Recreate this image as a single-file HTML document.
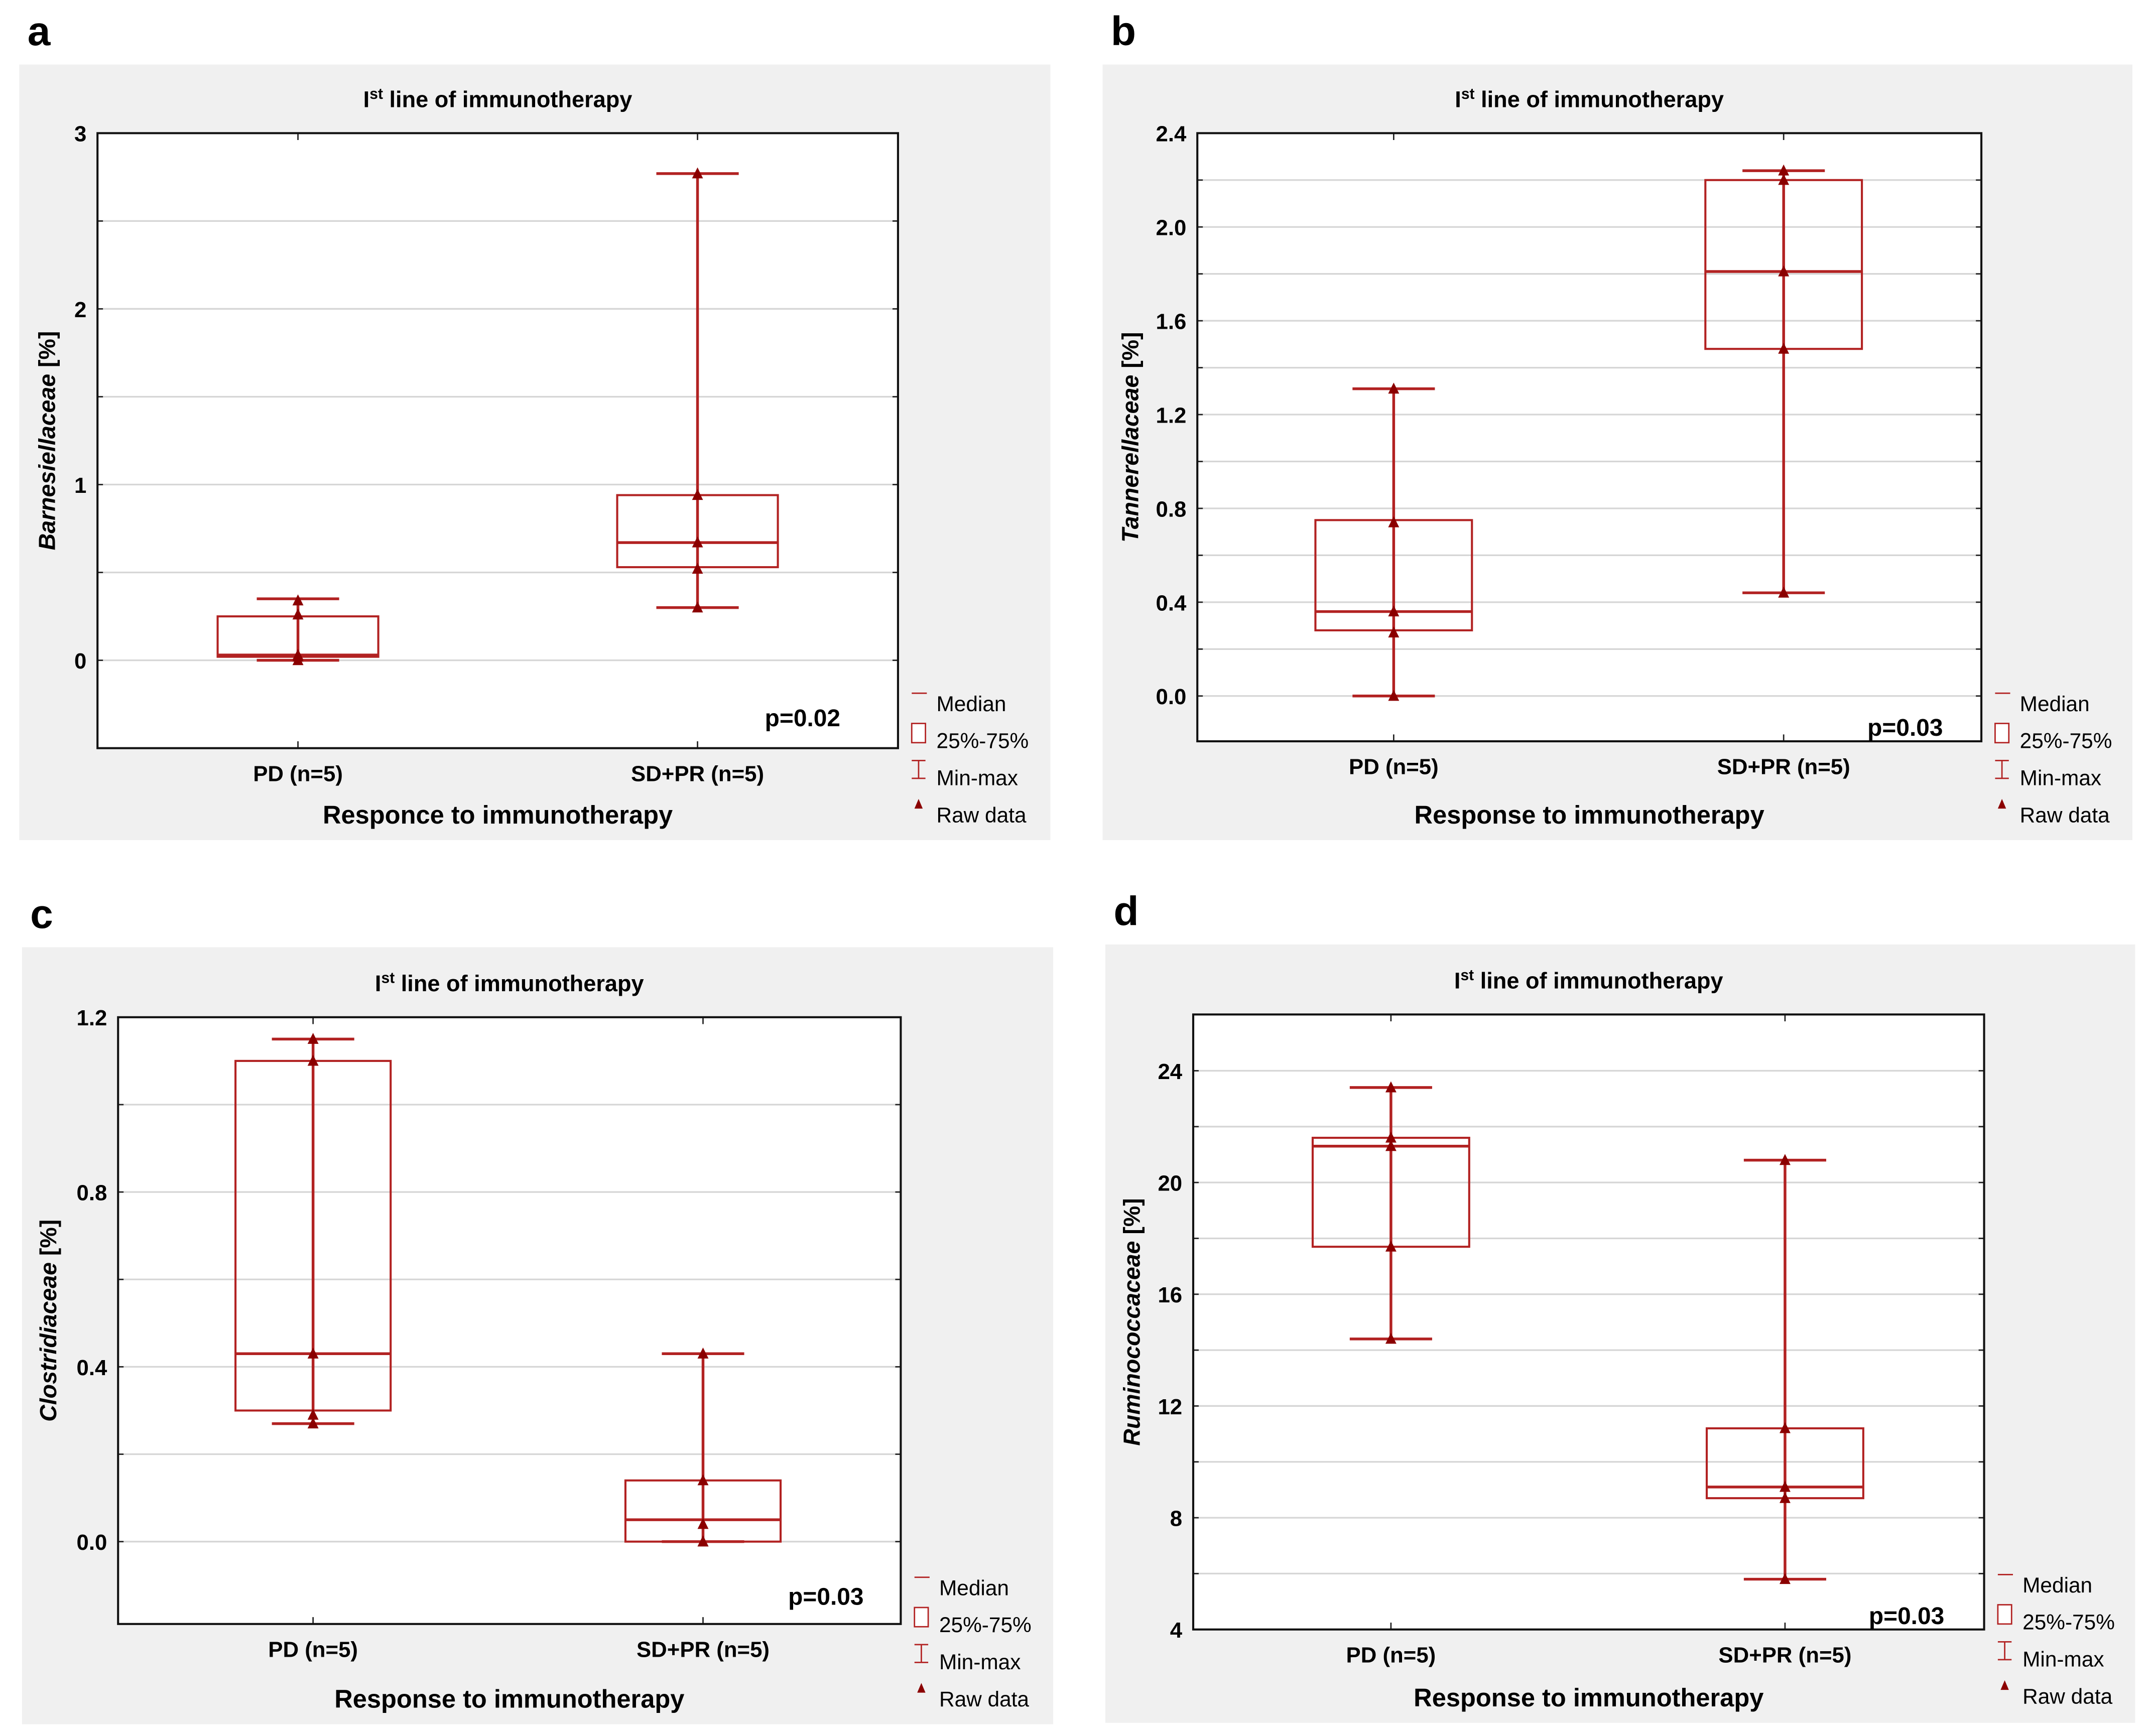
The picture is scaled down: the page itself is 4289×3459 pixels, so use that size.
<!DOCTYPE html>
<html><head><meta charset="utf-8"><style>
html,body{margin:0;padding:0;background:#fff;}
svg{display:block;}
text{font-family:"Liberation Sans",sans-serif;}
</style></head>
<body>
<svg id="fig" xmlns="http://www.w3.org/2000/svg" width="4289" height="3459" viewBox="0 0 1568 1264.6" preserveAspectRatio="none"></svg>
<script>
// ---- data ----
const categories = ["PD (n=5)", "SD+PR (n=5)"];
// panel a: Barnesiellaceae
const aMin=[0,0.30], aQ1=[0.02,0.53], aMed=[0.03,0.67], aQ3=[0.25,0.94], aMax=[0.35,2.77];
const aRawPD=[0,0.02,0.03,0.26,0.34], aRawSD=[0.30,0.52,0.67,0.94,2.77];
const aTicks=["0","1","2","3"];
// panel b: Tannerellaceae
const bMin=[0,0.44], bQ1=[0.28,1.48], bMed=[0.36,1.81], bQ3=[0.75,2.20], bMax=[1.31,2.24];
const bRawPD=[0,0.27,0.36,0.74,1.31], bRawSD=[0.44,1.48,1.81,2.20,2.24];
const bTicks=["0.0","0.4","0.8","1.2","1.6","2.0","2.4"];
// panel c: Clostridiaceae
const cMin=[0.27,0], cQ1=[0.30,0], cMed=[0.43,0.05], cQ3=[1.10,0.14], cMax=[1.15,0.43];
const cRawPD=[0.27,0.29,0.43,1.10,1.15], cRawSD=[0,0,0.04,0.14,0.43];
const cTicks=["0.0","0.4","0.8","1.2"];
// panel d: Ruminococcaceae
const dMin=[14.4,5.8], dQ1=[17.7,8.7], dMed=[21.3,9.1], dQ3=[21.6,11.2], dMax=[23.4,20.8];
const dRawPD=[14.4,17.7,21.3,21.6,23.4], dRawSD=[5.8,8.7,9.1,11.2,20.8];
const dTicks=["4","8","12","16","20","24"];

const NS="http://www.w3.org/2000/svg";
const svg=document.getElementById('fig');
const RED="#b22222", DARK="#8b0000";
function mk(tag,attrs,parent,txt){
  const e=document.createElementNS(NS,tag);
  for(const k in attrs) e.setAttribute(k,attrs[k]);
  if(txt!==undefined) e.textContent=txt;
  (parent||svg).appendChild(e);
  return e;
}

function panel(p){
  const g=mk('g',{});
  
  
  const lt=mk('text',{x:p.bg[0]+6,y:p.bg[1]-14,'font-size':30,'font-weight':'bold'},g,p.letter);
  
  
  const bg=mk('rect',{x:p.bg[0],y:p.bg[1],width:p.bg[2],height:p.bg[3],fill:'#f0f0f0'},g);
  
  
  const [x0,y0,x1,y1]=p.plot;
  const yScale=v=>p.yBot+(v-p.vBot)*(p.yTop-p.yBot)/(p.vTop-p.vBot);
  const xScale=i=>p.cx[i];
  const pr=mk('rect',{x:x0,y:y0,width:x1-x0,height:y1-y0,fill:'#fff'},g);
  
  
  for(let v=p.vBot-p.gridStep*Math.ceil((p.vBot-p.gMin)/p.gridStep); v<=p.vTop+1e-9; v+=p.gridStep){
    const y=yScale(v); if(y<y0-0.5||y>y1+0.5) continue;
    const gl=mk('line',{x1:x0,x2:x1,y1:y,y2:y,stroke:'#d6d6d6','stroke-width':1.2},g);
    
    
    mk('line',{x1:x0,x2:x0+4,y1:y,y2:y,stroke:'#222','stroke-width':1},g);
    mk('line',{x1:x1-4,x2:x1,y1:y,y2:y,stroke:'#222','stroke-width':1},g);
  }
  p.ticks.forEach(t=>{
    const y=yScale(parseFloat(t));
    const tl=mk('text',{x:x0-8,y:y+6,'font-size':16,'font-weight':'bold','text-anchor':'end'},g,t);
    
    
  });
  categories.forEach((c,i)=>{
    const x=xScale(i);
    mk('line',{x1:x,x2:x,y1:y1,y2:y1-5,stroke:'#222'},g);
    mk('line',{x1:x,x2:x,y1:y0,y2:y0+5,stroke:'#222'},g);
    const xl=mk('text',{x:x,y:y1+24,'font-size':16,'font-weight':'bold','text-anchor':'middle'},g,c);
    
    
  });
  const halfBox=(p.boxW)/2, halfCap=30;
  categories.forEach((c,i)=>{
    const x=xScale(i);
    const bx=mk('g',{},g);
    
    
    mk('line',{x1:x,x2:x,y1:yScale(p.mn[i]),y2:yScale(p.mx[i]),stroke:RED,'stroke-width':2},bx);
    mk('line',{x1:x-halfCap,x2:x+halfCap,y1:yScale(p.mn[i]),y2:yScale(p.mn[i]),stroke:RED,'stroke-width':2},bx);
    mk('line',{x1:x-halfCap,x2:x+halfCap,y1:yScale(p.mx[i]),y2:yScale(p.mx[i]),stroke:RED,'stroke-width':2},bx);
    const yq3=yScale(p.q3[i]), yq1=yScale(p.q1[i]);
    mk('rect',{x:x-halfBox,y:yq3,width:2*halfBox,height:Math.max(0.5,yq1-yq3),fill:'none',stroke:RED,'stroke-width':1.5},bx);
    mk('line',{x1:x-halfBox,x2:x+halfBox,y1:yScale(p.md[i]),y2:yScale(p.md[i]),stroke:RED,'stroke-width':2},bx);
    (i===0?p.rawPD:p.rawSD).forEach(v=>{
      const y=yScale(v);
      const t=mk('polygon',{points:`${x-4},${y+3.5} ${x+4},${y+3.5} ${x},${y-4.5}`,fill:DARK},bx);
      
      
    });
  });
  mk('rect',{x:x0,y:y0,width:x1-x0,height:y1-y0,fill:'none',stroke:'#111','stroke-width':1.5},g);
  const tt=mk('text',{x:(x0+x1)/2,y:y0-19,'font-size':16.5,'font-weight':'bold','text-anchor':'middle'},g);
  
  
  mk('tspan',{},tt,'I');
  mk('tspan',{dy:-6,'font-size':11},tt,'st');
  mk('tspan',{dy:6},tt,' line of immunotherapy');
  const ya=mk('text',{transform:`translate(${p.yTitleX},${(y0+y1)/2}) rotate(-90)`,'font-size':17,'font-weight':'bold','text-anchor':'middle'},g);
  
  
  mk('tspan',{'font-style':'italic'},ya,p.yName);
  mk('tspan',{},ya,' [%]');
  const xa=mk('text',{x:(x0+x1)/2,y:p.bg[1]+p.bg[3]-12,'font-size':18.5,'font-weight':'bold','text-anchor':'middle'},g,p.xName);
  
  
  const pv=mk('text',{x:p.pX,y:p.pY,'font-size':17.5,'font-weight':'bold','text-anchor':'end'},g,p.pval);
  
  
  const lg=mk('g',{},g);
  
  
  const lx=x1+10, ly=p.legY;
  mk('line',{x1:lx,x2:lx+11,y1:ly,y2:ly,stroke:RED,'stroke-width':1},lg);
  mk('text',{x:lx+18,y:ly+13,'font-size':15.5},lg,'Median');
  mk('rect',{x:lx,y:ly+22,width:10,height:14,fill:'#fff',stroke:RED,'stroke-width':1},lg);
  mk('text',{x:lx+18,y:ly+40,'font-size':15.5},lg,'25%-75%');
  mk('line',{x1:lx+5,x2:lx+5,y1:ly+49,y2:ly+62,stroke:RED},lg);
  mk('line',{x1:lx,x2:lx+10,y1:ly+49,y2:ly+49,stroke:RED},lg);
  mk('line',{x1:lx,x2:lx+10,y1:ly+62,y2:ly+62,stroke:RED},lg);
  mk('text',{x:lx+18,y:ly+67,'font-size':15.5},lg,'Min-max');
  mk('polygon',{points:`${lx+2},${ly+84} ${lx+8},${ly+84} ${lx+5},${ly+77}`,fill:DARK},lg);
  mk('text',{x:lx+18,y:ly+94,'font-size':15.5},lg,'Raw data');
}

panel({letter:'a',bg:[14,47,751,565],plot:[71,97,654,545],cx:[217,508],boxW:117,
  vTop:3,vBot:0,yTop:97,yBot:481,gridStep:0.5,gMin:-0.5,ticks:aTicks,
  mn:aMin,q1:aQ1,md:aMed,q3:aQ3,mx:aMax,rawPD:aRawPD,rawSD:aRawSD,
  yTitleX:40,yName:'Barnesiellaceae',xName:'Responce to immunotherapy',pval:'p=0.02',pX:612,pY:529,legY:505});
panel({letter:'b',bg:[803,47,750,565],plot:[872,97,1443,540],cx:[1015,1299],boxW:114,
  vTop:2.4,vBot:0,yTop:97,yBot:507,gridStep:0.2,gMin:-0.2,ticks:bTicks,
  mn:bMin,q1:bQ1,md:bMed,q3:bQ3,mx:bMax,rawPD:bRawPD,rawSD:bRawSD,
  yTitleX:829,yName:'Tannerellaceae',xName:'Response to immunotherapy',pval:'p=0.03',pX:1415,pY:536,legY:505});
panel({letter:'c',bg:[16,690,751,566],plot:[86,741,656,1183],cx:[228,512],boxW:113,
  vTop:1.2,vBot:0,yTop:741,yBot:1123,gridStep:0.2,gMin:-0.2,ticks:cTicks,
  mn:cMin,q1:cQ1,md:cMed,q3:cQ3,mx:cMax,rawPD:cRawPD,rawSD:cRawSD,
  yTitleX:41,yName:'Clostridiaceae',xName:'Response to immunotherapy',pval:'p=0.03',pX:629,pY:1169,legY:1149});
panel({letter:'d',bg:[805,688,750,567],plot:[869,739,1445,1187],cx:[1013,1300],boxW:114,
  vTop:24,vBot:4,yTop:780,yBot:1187,gridStep:2,gMin:4,ticks:dTicks,
  mn:dMin,q1:dQ1,md:dMed,q3:dQ3,mx:dMax,rawPD:dRawPD,rawSD:dRawSD,
  yTitleX:830,yName:'Ruminococcaceae',xName:'Response to immunotherapy',pval:'p=0.03',pX:1416,pY:1183,legY:1147});
</script>
</body></html>
